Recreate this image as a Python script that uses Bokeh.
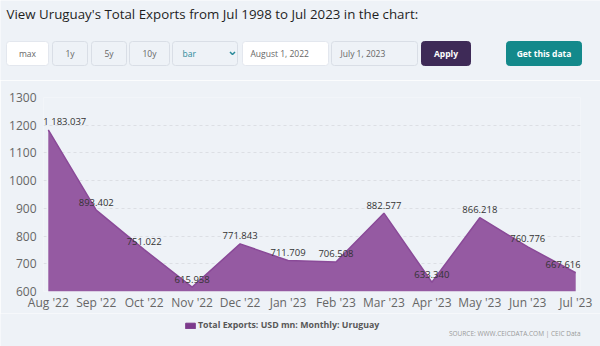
from bokeh.plotting import figure
from bokeh.models import (ColumnDataSource, Range1d, FixedTicker, Legend, LegendItem)
from bokeh.embed import file_html
from bokeh.resources import INLINE
from bokeh.core.properties import value

# ---------------- data ----------------
months = ["Aug '22", "Sep '22", "Oct '22", "Nov '22", "Dec '22", "Jan '23",
          "Feb '23", "Mar '23", "Apr '23", "May '23", "Jun '23", "Jul '23"]
exports = [1183.037, 893.402, 751.022, 615.958, 771.843, 711.709,
           706.508, 882.577, 633.340, 866.218, 760.776, 667.616]
y_ticks = [600, 700, 800, 900, 1000, 1100, 1200, 1300]
series_name = "Total Exports: USD mn: Monthly: Uruguay"
title_text = "View Uruguay's Total Exports from Jul 1998 to Jul 2023 in the chart:"
source_text = "SOURCE: WWW.CEICDATA.COM | CEIC Data"

BG = "#eef2f7"
FONT = "Open Sans"
AREA = "#955aa2"
LINE = "#8a4a98"
SWATCH = "#7c3a8c"


def bare(fig):
    fig.axis.visible = False
    fig.grid.visible = False
    fig.outline_line_color = None
    fig.background_fill_color = BG
    fig.border_fill_color = BG


# ---------------- header (title + controls) ----------------
h = figure(width=600, height=80, x_range=Range1d(0, 600), y_range=Range1d(80, 0),
           output_backend="svg", toolbar_location=None, min_border=0)
bare(h)

h.text(x=[6], y=[13], text=[title_text], text_font=value(FONT), text_font_size="13.3px",
       text_color="#1f1f1f", text_baseline="middle", text_align="left")

btn_left = [6, 52, 91, 129, 172, 242, 331, 421, 506]
btn_right = [48, 87, 126, 169, 237, 328, 417, 470, 581]
btn_fill = ["#ffffff", BG, BG, BG, BG, "#ffffff", BG, "#3e2a57", "#13898b"]
btn_line = ["#e3e7ee", "#d9dee6", "#d9dee6", "#d9dee6", "#d9dee6", "#e3e7ee", "#d9dee6",
            "#3e2a57", "#13898b"]
h.quad(left=btn_left, right=btn_right, top=41, bottom=65, fill_color=btn_fill,
       line_color=btn_line, line_width=1, border_radius=3)

btn_text = ["max", "1y", "5y", "10y"]
btn_cx = [27, 69.5, 108.5, 149]
h.text(x=btn_cx, y=[53] * 4, text=btn_text, text_font=value(FONT), text_font_size="8.5px",
       text_color="#666666", text_align="center", text_baseline="middle")
h.text(x=[182], y=[53], text=["bar"], text_font=value(FONT), text_font_size="8.5px",
       text_color="#2a8a9a", text_align="left", text_baseline="middle")
h.line(x=[229.5, 232, 234.5], y=[51.5, 54, 51.5], line_color="#2a8a9a", line_width=1.5)
h.text(x=[250, 340], y=[53, 53], text=["August 1, 2022", "July 1, 2023"],
       text_font=value(FONT), text_font_size="8.5px", text_color="#666666",
       text_align="left", text_baseline="middle")
h.text(x=[445.5, 543.5], y=[53, 53], text=["Apply", "Get this data"],
       text_font=value(FONT), text_font_size="8.5px", text_color="#ffffff",
       text_align="center", text_baseline="middle", text_font_style="bold")

# ---------------- chart ----------------
idx = list(range(len(months)))
labels = [f"{v:,.3f}".replace(",", " ") for v in exports]
aligns = ["left" if i == 0 else ("right" if i == len(idx) - 1 else "center") for i in idx]
xoffs = [-5 if i == 0 else (5 if i == len(idx) - 1 else 0) for i in idx]
src = ColumnDataSource(dict(x=idx, y=exports, lbl=labels, al=aligns, xo=xoffs))

p = figure(width=600, height=233, x_range=Range1d(-0.1, len(months) - 1 + 0.1),
           y_range=Range1d(y_ticks[0], y_ticks[-1]), output_backend="svg",
           toolbar_location=None, min_border_left=43, min_border_right=20,
           min_border_top=17, min_border_bottom=20)
p.background_fill_color = BG
p.border_fill_color = BG
p.outline_line_color = None

p.varea(x="x", y1=y_ticks[0], y2="y", source=src, fill_color=AREA, fill_alpha=1)
p.line(x="x", y="y", source=src, line_color=LINE, line_width=1.5)
p.text(x="x", y="y", text="lbl", source=src, text_font=value(FONT), text_font_size="9.5px",
       text_color="#333333", text_align="al", x_offset="xo", y_offset=-8,
       text_baseline="middle")

p.xaxis.ticker = FixedTicker(ticks=idx)
p.xaxis.major_label_overrides = {i: m for i, m in zip(idx, months)}
p.yaxis.ticker = FixedTicker(ticks=y_ticks)
for ax in (p.xaxis, p.yaxis):
    ax.axis_line_color = None
    ax.major_tick_line_color = None
    ax.minor_tick_line_color = None
    ax.major_tick_out = 0
    ax.major_tick_in = 0
    ax.minor_tick_out = 0
    ax.minor_tick_in = 0
    ax.major_label_text_font = FONT
    ax.major_label_text_font_size = "12px"
    ax.major_label_text_color = "#666666"
p.xaxis.major_label_standoff = 2
p.yaxis.major_label_standoff = 7

p.xgrid.grid_line_color = None
p.ygrid.grid_line_color = "#dcdfe4"
p.ygrid.grid_line_dash = "3 3"
p.ygrid.grid_line_width = 1

# ---------------- footer (legend + source) ----------------
f = figure(width=600, height=33, x_range=Range1d(0, 600), y_range=Range1d(33, 0),
           output_backend="svg", toolbar_location=None, min_border=0)
bare(f)
# legend-only swatch renderer (its single box lies outside the visible range)
sw = f.quad(left=[-30], right=[-20], top=[0], bottom=[10], fill_color=SWATCH,
            line_color=SWATCH)
legend = Legend(items=[LegendItem(label=series_name, renderers=[sw])],
                location=(184, 15), orientation="horizontal",
                padding=0, margin=0, spacing=0, glyph_width=12, glyph_height=7,
                label_standoff=2, background_fill_alpha=0, border_line_color=None,
                label_text_font=FONT, label_text_font_size="8.8px",
                label_text_font_style="bold", label_text_color="#585858",
                label_height=12)
f.add_layout(legend, "center")
f.text(x=[580], y=[20], text=[source_text], text_font=value(FONT), text_font_size="6.5px",
       text_color="#9a9a9a", text_align="right", text_baseline="middle")

open("out.html", "w").write(file_html([h, p, f], INLINE))
